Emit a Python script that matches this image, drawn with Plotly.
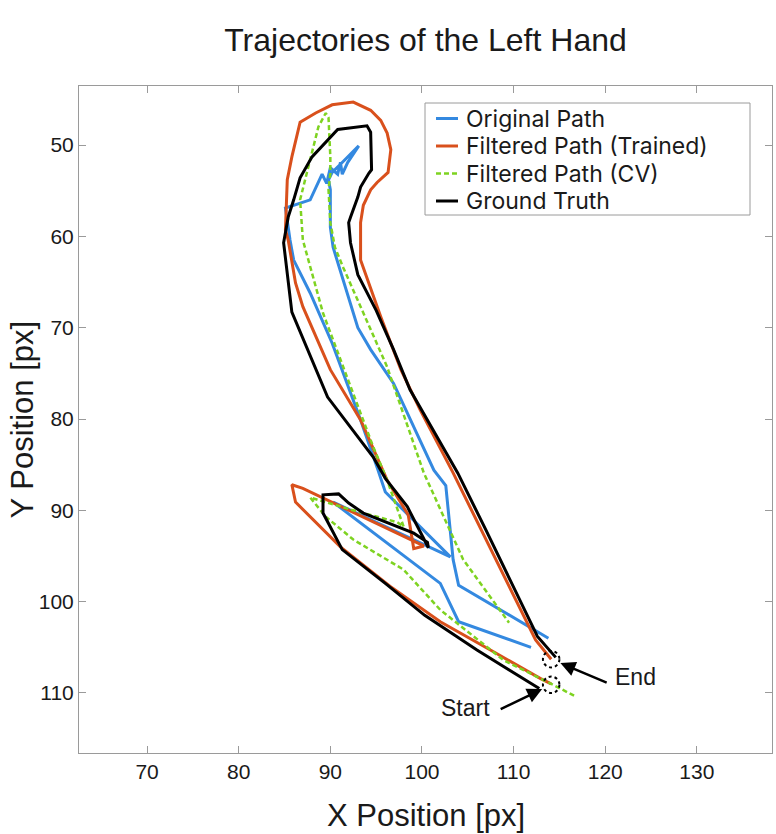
import plotly.graph_objects as go

# ---------------- data ----------------
gt_x = [112.8, 106.0, 100.3, 96.0, 91.3, 89.2, 89.2, 90.9, 92.0, 93.6, 99.1, 100.6, 100.7,
        98.4, 96.0, 94.7, 89.7, 85.8, 84.9, 85.4, 86.0, 86.7, 88.0, 89.7, 90.8, 94.0, 94.4,
        94.5, 94.2, 93.3, 93.0, 92.2, 92.0, 92.2, 93.0, 95.0, 96.9, 98.7, 103.9, 107.0, 110.0,
        112.6, 114.6]
gt_y = [109.5, 105.3, 101.5, 98.0, 94.3, 90.3, 88.3, 88.2, 89.2, 90.3, 92.5, 93.5, 94.1,
        89.6, 86.5, 84.2, 77.6, 68.3, 60.7, 57.9, 56.0, 53.6, 51.3, 49.5, 48.3, 47.9, 48.6,
        52.7, 53.1, 54.6, 55.7, 57.9, 58.5, 60.7, 64.2, 68.1, 72.4, 76.8, 85.9, 92.2, 98.5,
        103.8, 106.1]

tr_x = [114.1, 112.9, 108.0, 102.0, 96.5, 91.1, 86.2, 85.8, 87.0, 90.8, 94.4, 99.5, 100.2,
        99.1, 98.5, 96.2, 93.3, 90.0, 87.0, 86.2, 85.4, 85.1, 85.3, 85.8, 86.7, 88.4, 90.2,
        92.5, 94.4, 95.5, 96.2, 96.6, 96.3, 95.1, 94.4, 93.6, 93.3, 93.3, 95.5, 97.7, 99.8,
        103.4, 106.4, 109.7, 112.4, 114.1]
tr_y = [109.0, 108.4, 105.6, 102.2, 98.3, 94.0, 89.1, 87.2, 87.6, 89.4, 91.1, 93.5, 93.9,
        94.2, 90.5, 86.7, 80.1, 74.6, 67.7, 65.1, 60.4, 59.3, 53.8, 51.3, 47.5, 46.5, 45.6,
        45.3, 46.2, 47.3, 48.7, 50.5, 53.0, 54.1, 54.9, 56.6, 58.5, 62.6, 68.8, 74.6, 79.0,
        85.9, 92.0, 98.7, 104.2, 106.3]

cv_x = [116.6, 114.3, 108.9, 102.0, 98.0, 92.5, 89.5, 87.8, 92.5, 97.3, 98.0, 96.2, 94.7,
        92.5, 89.2, 87.0, 86.7, 87.8, 88.7, 89.5, 89.8, 90.0, 90.0, 89.8, 90.0, 90.5, 91.4,
        93.3, 96.2, 100.2, 104.5, 109.5]
cv_y = [110.3, 109.1, 106.4, 100.9, 96.5, 93.2, 90.7, 88.6, 90.0, 91.3, 91.8, 86.7, 83.1,
        77.2, 68.4, 60.4, 56.0, 51.6, 48.0, 46.5, 47.0, 51.3, 53.1, 54.9, 58.5, 61.2, 63.4,
        67.7, 74.3, 85.9, 95.4, 102.3]

or_x = [111.9, 104.0, 102.0, 90.3, 103.1, 96.0, 95.2, 93.3, 90.2, 87.8, 86.0, 85.6, 85.1,
        87.8, 89.1, 89.6, 90.0, 90.8, 91.1, 91.3, 91.9, 93.1, 91.4, 90.2, 89.8, 90.0, 90.0,
        90.3, 93.0, 94.4, 96.9, 101.3, 102.6, 103.4, 104.0, 113.8]
or_y = [105.0, 102.2, 98.0, 89.1, 95.1, 88.0, 85.6, 80.1, 71.7, 66.2, 62.6, 60.4, 56.9,
        56.0, 53.2, 54.2, 52.5, 53.2, 51.9, 53.2, 51.9, 50.1, 51.8, 53.0, 53.8, 54.9, 59.0,
        61.2, 70.0, 72.4, 76.1, 85.6, 87.3, 95.4, 98.2, 104.0]

start_pt = (114.1, 109.1)
end_pt = (114.1, 106.3)
marker_r = 0.9

x_ticks = [70, 80, 90, 100, 110, 120, 130]
y_ticks = [50, 60, 70, 80, 90, 100, 110]

series_names = ["Original Path", "Filtered Path (Trained)", "Filtered Path (CV)", "Ground Truth"]

FONT = "Liberation Sans, Arial, Helvetica, sans-serif"
LEG_FONT = "Inter, Liberation Sans, Arial, sans-serif"
TXT = "#1a1a1a"
AX = "#9a9a9a"
BLUE = "#3489E0"
RED = "#D9501C"
GREEN = "#7ED321"

styles = [
    dict(color=BLUE, width=3),
    dict(color=RED, width=3),
    dict(color=GREEN, width=2.5, dash="5px,3px"),
    dict(color="black", width=3),
]
series = [(or_x, or_y), (tr_x, tr_y), (cv_x, cv_y), (gt_x, gt_y)]

fig = go.Figure()
for (sx, sy), name, st in zip(series, series_names, styles):
    fig.add_trace(go.Scatter(x=sx, y=sy, mode="lines", name=name, line=st,
                             showlegend=False))

# dotted start / end circles
for (px, py) in (start_pt, end_pt):
    fig.add_shape(type="circle", xref="x", yref="y",
                  x0=px - marker_r, x1=px + marker_r, y0=py - marker_r, y1=py + marker_r,
                  line=dict(color="black", width=2, dash="dot"))

# arrows + labels
fig.add_annotation(x=start_pt[0], y=start_pt[1], ax=-52, ay=25, text="", showarrow=True,
                   arrowhead=2, arrowsize=1.2, arrowwidth=2.5, arrowcolor="black", standoff=10)
fig.add_annotation(x=end_pt[0], y=end_pt[1], ax=57, ay=24, text="", showarrow=True,
                   arrowhead=2, arrowsize=1.2, arrowwidth=2.5, arrowcolor="black", standoff=10)
fig.add_annotation(x=start_pt[0], y=start_pt[1], xshift=-86, yshift=-23, text="Start",
                   showarrow=False, font=dict(family=FONT, size=23, color=TXT))
fig.add_annotation(x=end_pt[0], y=end_pt[1], xshift=84, yshift=-18, text="End",
                   showarrow=False, font=dict(family=FONT, size=23, color=TXT))

# ---- layout geometry (pixels) ----
W, H = 776, 834
PLOT_L, PLOT_T, PLOT_W, PLOT_H = 79, 86, 693, 667


def px2paper_x(p):
    return (p - PLOT_L) / PLOT_W


def px2paper_y(p):
    return (PLOT_T + PLOT_H - p) / PLOT_H


# ---- legend (drawn box, samples and text) ----
fig.add_shape(type="rect", xref="paper", yref="paper",
              x0=px2paper_x(425), x1=px2paper_x(750), y0=px2paper_y(215), y1=px2paper_y(103),
              line=dict(color=AX, width=1), fillcolor="white", layer="above")
for i, (name, st) in enumerate(zip(series_names, styles)):
    yc = 118.5 + i * 27.5
    fig.add_shape(type="line", xref="paper", yref="paper",
                  x0=px2paper_x(436), x1=px2paper_x(458), y0=px2paper_y(yc), y1=px2paper_y(yc),
                  line=st, layer="above")
    fig.add_annotation(xref="paper", yref="paper", x=px2paper_x(464), y=px2paper_y(yc),
                       xanchor="left", yanchor="middle", text=name, showarrow=False,
                       font=dict(family=LEG_FONT, size=23, color=TXT))

# axis titles
fig.add_annotation(xref="paper", yref="paper", x=0.5, y=px2paper_y(815),
                   xanchor="center", yanchor="middle", text="X Position [px]",
                   showarrow=False, font=dict(family=FONT, size=31, color=TXT))
fig.add_annotation(xref="paper", yref="paper", x=px2paper_x(22), y=0.5,
                   xanchor="center", yanchor="middle", text="Y Position [px]", textangle=-90,
                   showarrow=False, font=dict(family=FONT, size=31, color=TXT))

axis_common = dict(showline=True, linecolor=AX, linewidth=1, mirror="ticks",
                   ticks="inside", ticklen=7, tickcolor=AX, showgrid=False,
                   zeroline=False, automargin=False,
                   tickfont=dict(family=FONT, size=21, color=TXT))

fig.update_layout(
    width=W, height=H,
    margin=dict(l=PLOT_L, r=W - PLOT_L - PLOT_W, t=PLOT_T, b=H - PLOT_T - PLOT_H),
    paper_bgcolor="white", plot_bgcolor="white",
    font=dict(family=FONT, color=TXT),
    title=dict(text="Trajectories of the Left Hand", x=0.5, xref="paper",
               y=1 - 40 / H, yref="container", xanchor="center", yanchor="middle",
               font=dict(family=FONT, size=32, color=TXT)),
    xaxis=dict(range=[62.57, 138.2], tickvals=x_ticks, **axis_common),
    yaxis=dict(range=[116.57, 43.54], tickvals=y_ticks, **axis_common),
    showlegend=False,
)

fig.write_html("out.html",
               config={"displayModeBar": False},
               post_script="document.body.style.margin='0';"
                           "document.body.style.overflow='hidden';")
